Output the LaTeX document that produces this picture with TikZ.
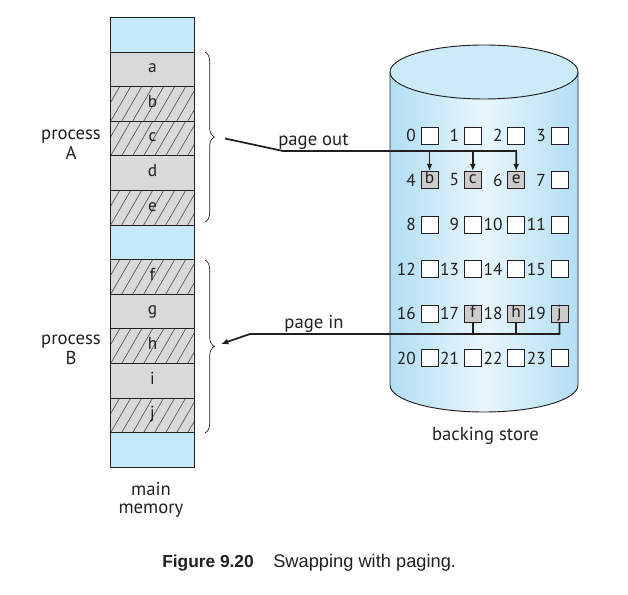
\documentclass[tikz,border=0pt]{standalone}
\usepackage{fontspec}
\setmainfont{PT Sans}
\newfontfamily\capfont{Liberation Sans}
\usetikzlibrary{decorations.pathreplacing,arrows.meta,calc}
\definecolor{memblue}{HTML}{C5E9F9}
\definecolor{cellgray}{HTML}{D9D9D9}
\definecolor{hatchc}{HTML}{4A4A4A}
\definecolor{cyledge}{HTML}{B2DEF4}
\definecolor{cylmid}{HTML}{E8F6FC}
\definecolor{cyltop}{HTML}{CBEBF9}
\definecolor{boxgray}{HTML}{CCCCCC}
\definecolor{ink}{HTML}{231F20}
\begin{document}
\begin{tikzpicture}[x=0.75pt,y=-0.75pt,
  every node/.style={text=ink},
  memcell/.style={draw=ink, line width=0.6pt, minimum width=62.7pt, minimum height=25.95pt,
     inner sep=0pt, outer sep=0pt, text height=1.25ex, text depth=.25ex,
     font=\fontsize{13}{15}\selectfont},
  freecell/.style={memcell, fill=memblue},
  pagecell/.style={memcell, fill=cellgray},
  hatchcell/.style={pagecell, path picture={
     \foreach \k in {0,...,12}{\draw[hatchc,line width=0.45pt]
       ($(path picture bounding box.south west)+(\k*11-22,0)$) -- ++(20,-34.6);}}},
  bracestyle/.style={draw=ink, line width=0.5pt, decorate, decoration={brace, amplitude=7pt}},
  gbox/.style={draw=ink, line width=0.6pt, fill=white, minimum size=12.75pt, inner sep=0pt,
     text height=1.4ex, text depth=.3ex, font=\fontsize{13}{15}\selectfont},
  gfull/.style={gbox, fill=boxgray},
  gnum/.style={anchor=east, inner sep=0pt, font=\fontsize{13}{15}\selectfont},
  lab/.style={anchor=base, inner sep=0pt, font=\fontsize{14}{16}\selectfont},
  conn/.style={draw=ink, line width=1.3pt},
  tip/.style={-{Latex[length=5.5pt,width=4.5pt]}}
]
\useasboundingbox (0,0) rectangle (628,595);

% ---- main memory ----
\node[freecell]  (m0)  at (152.5,34.7)  {};
\node[pagecell]  (ma)  at (152.5,69.3)  {a};
\node[hatchcell] (mb)  at (152.5,103.9) {b};
\node[hatchcell] (mc)  at (152.5,138.5) {c};
\node[pagecell]  (md)  at (152.5,173.1) {d};
\node[hatchcell] (me)  at (152.5,207.7) {e};
\node[freecell]  (m1)  at (152.5,242.3) {};
\node[hatchcell] (mf)  at (152.5,276.9) {f};
\node[pagecell]  (mg)  at (152.5,311.5) {g};
\node[hatchcell] (mh)  at (152.5,346.1) {h};
\node[pagecell]  (mi)  at (152.5,380.7) {i};
\node[hatchcell] (mj)  at (152.5,415.3) {j};
\node[freecell]  (m2)  at (152.5,449.9) {};

\node[lab] (pA1) at (71,140) {process};
\node[lab] (pA2) at (71,160) {A};
\node[lab] (pB1) at (71,344.5) {process};
\node[lab] (pB2) at (71,364.5) {B};
\node[lab] (mm1) at (151,495) {main};
\node[lab] (mm2) at (151,513) {memory};

\coordinate (bAt) at (205,52);
\coordinate (bAb) at (205,222);
\coordinate (bBt) at (205,260);
\coordinate (bBb) at (205,433);
\draw[bracestyle] (bAt) -- (bAb);
\draw[bracestyle] (bBt) -- (bBb);

% ---- backing store ----
\shade[left color=cyledge, right color=cyledge, middle color=cylmid]
  (390,72) -- (390,385) arc[start angle=180, end angle=0, x radius=94, y radius=27] -- (578,72) -- cycle;
\draw[ink, line width=0.7pt]
  (390,72) -- (390,385) arc[start angle=180, end angle=0, x radius=94, y radius=27] -- (578,72);
\draw[ink, line width=0.7pt, fill=cyltop] (484,72) ellipse[x radius=94, y radius=27];

\foreach \n in {0,1,2,3,7,8,9,10,11,12,13,14,15,16,20,21,22,23}{
  \pgfmathtruncatemacro\r{int(\n/4)}
  \pgfmathtruncatemacro\c{\n-4*\r}
  \node[gbox] (g\n) at ({429.5+43.33*\c},{135.5+44.5*\r}) {};
  \node[gnum] at ([xshift=-3.4pt]g\n.west) {\n};
}
\foreach \n/\t in {4/b,5/c,6/e,17/f,18/h,19/j}{
  \pgfmathtruncatemacro\r{int(\n/4)}
  \pgfmathtruncatemacro\c{\n-4*\r}
  \node[gfull] (g\n) at ({429.5+43.33*\c},{135.5+44.5*\r}) {\t};
  \node[gnum] at ([xshift=-3.4pt]g\n.west) {\n};
}
\node[lab] (bs) at (485.5,440) {backing store};

% ---- page out ----
\coordinate (poStart) at (225,138.5);
\coordinate (poBend) at (283,151);
\draw[conn,tip] (poStart) -- (poBend) -| (g6.north);
\draw[conn,tip] (poBend -| g4.north) -- (g4.north);
\draw[conn,tip] (poBend -| g5.north) -- (g5.north);
\node[lab] (po) at (313.5,145.5) {page out};

% ---- page in ----
\coordinate (piBend) at (250,334);
\coordinate (piEnd) at (221,344);
\draw[conn,tip] (g19.south) |- (piBend) -- (piEnd);
\draw[conn] (g17.south) -- (g17.south |- piBend);
\draw[conn] (g18.south) -- (g18.south |- piBend);
\node[lab] (pi) at (314,328) {page in};

% ---- caption ----
\node[anchor=base west, inner sep=0pt, font=\capfont\bfseries\fontsize{13}{15}\selectfont] (capA) at (162,567.5) {Figure 9.20};
\node[anchor=base west, inner sep=0pt, font=\capfont\fontsize{13.7}{16}\selectfont] (capB) at (273,567.5) {Swapping with paging.};
\end{tikzpicture}
\end{document}
